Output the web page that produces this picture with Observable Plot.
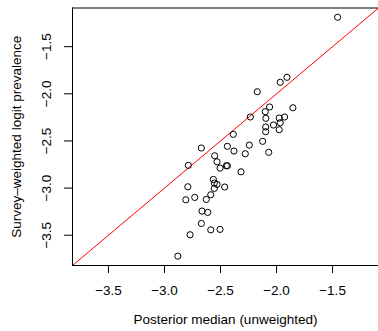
<!DOCTYPE html>
<html>
<head>
<meta charset="utf-8">
<script src="https://cdn.jsdelivr.net/npm/d3@7"></script>
<script src="https://cdn.jsdelivr.net/npm/@observablehq/plot@0.6"></script>
<style>
  html, body { margin: 0; padding: 0; background: #fff; }
  svg { display: block; }
</style>
</head>
<body>
<div id="chart"></div>
<script>
const posteriorMedian = [-1.455, -1.907, -1.967, -2.172, -1.854, -2.062, -2.101, -2.095, -2.234, -1.976, -1.928, -1.967, -2.027, -2.097, -2.097, -1.976, -2.386, -2.124, -2.243, -2.070, -2.439, -2.380, -2.279, -2.671, -2.552, -2.531, -2.504, -2.448, -2.439, -2.787, -2.317, -2.564, -2.555, -2.531, -2.555, -2.463, -2.792, -2.587, -2.627, -2.730, -2.810, -2.665, -2.614, -2.671, -2.587, -2.504, -2.772, -2.881];
const surveyWeighted = [-1.188, -1.825, -1.878, -1.978, -2.148, -2.140, -2.190, -2.260, -2.246, -2.257, -2.246, -2.307, -2.331, -2.352, -2.402, -2.381, -2.430, -2.504, -2.544, -2.621, -2.557, -2.607, -2.636, -2.575, -2.657, -2.721, -2.788, -2.763, -2.763, -2.759, -2.827, -2.908, -2.947, -2.961, -3.003, -2.989, -2.986, -3.071, -3.120, -3.099, -3.124, -3.244, -3.258, -3.375, -3.443, -3.438, -3.495, -3.722];
const axisLimits = [-3.821, -1.09];
const xTicks = [-3.5, -3.0, -2.5, -2.0, -1.5];
const yTicks = [-3.5, -3.0, -2.5, -2.0, -1.5];
const xLabel = "Posterior median (unweighted)";
const yLabel = "Survey\u2013weighted logit prevalence";

const points = posteriorMedian.map((x, i) => ({x, y: surveyWeighted[i]}));
const fmt = d => d.toFixed(1).replace("-", "\u2212");
const font = "'Liberation Sans', Arial, Helvetica, sans-serif";
const fs = 13.5;

const chart = Plot.plot({
  width: 378,
  height: 331,
  marginLeft: 72,
  marginTop: 7.5,
  marginRight: 0,
  marginBottom: 66,
  style: {fontFamily: font, fontSize: fs + "px", color: "black", background: "white"},
  x: {domain: axisLimits},
  y: {domain: axisLimits},
  marks: [
    Plot.line(axisLimits, {x: d => d, y: d => d, stroke: "red", strokeWidth: 1}),
    Plot.dot(points, {x: "x", y: "y", r: 3.1, stroke: "black", strokeWidth: 1, fill: "none"}),
    Plot.ruleY([axisLimits[0]], {stroke: "black", strokeWidth: 1}),
    Plot.ruleY([axisLimits[1]], {stroke: "black", strokeWidth: 1}),
    Plot.ruleX([axisLimits[0]], {stroke: "black", strokeWidth: 1}),
    Plot.axisX(xTicks, {tickSize: 8, tickPadding: 12, tickFormat: fmt, label: null, fontSize: fs}),
    Plot.axisY(yTicks, {tickSize: 8, tickFormat: () => "", label: null}),
    Plot.text(yTicks, {y: d => d, text: fmt, frameAnchor: "left", textAnchor: "middle", dx: -26, rotate: -90, fontSize: fs, fill: "black"}),
    Plot.text([xLabel], {text: d => d, frameAnchor: "bottom", textAnchor: "middle", dy: 58, fontSize: fs, fill: "black"}),
    Plot.text([yLabel], {text: d => d, frameAnchor: "left", textAnchor: "middle", dx: -56, rotate: -90, fontSize: fs, fill: "black"})
  ]
});
document.getElementById("chart").appendChild(chart);
</script>
</body>
</html>
